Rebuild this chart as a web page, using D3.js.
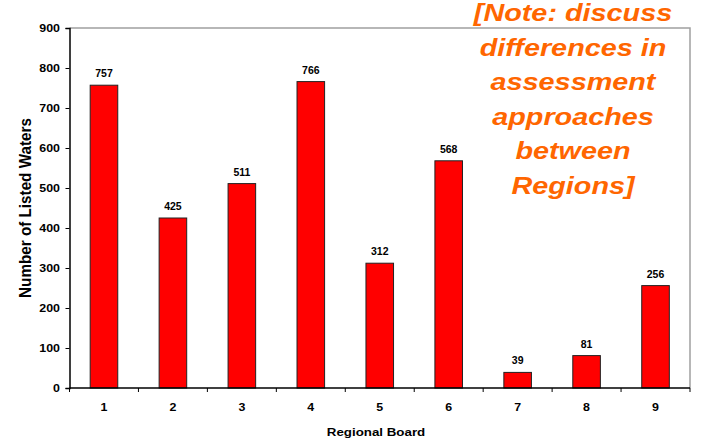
<!DOCTYPE html>
<html>
<head>
<meta charset="utf-8">
<script src="https://cdn.jsdelivr.net/npm/d3@7"></script>
<style>
  html, body { margin: 0; padding: 0; background: #fff; }
  svg { display: block; font-family: "Liberation Sans", Arial, sans-serif; }
</style>
</head>
<body>
<svg id="chart" width="707" height="438"></svg>
<script>
// Listed waters per regional board
const boards = ["1", "2", "3", "4", "5", "6", "7", "8", "9"];
const listedWaters = [757, 425, 511, 766, 312, 568, 39, 81, 256];
const yTicks = [0, 100, 200, 300, 400, 500, 600, 700, 800, 900];
const noteLines = ["[Note: discuss", "differences in", "assessment", "approaches", "between", "Regions]"];

const svg = d3.select("#chart");
const margin = { left: 69.5, right: 17, top: 28, bottom: 50 };
const W = 707, H = 438;
const x0 = margin.left, x1 = W - margin.right;
const y0 = H - margin.bottom, y1 = margin.top;

// text is drawn slightly wide (horizontal stretch of the slide artwork)
const STRETCH = 1.13;
function label(g, px, py, s, size, anchor, opts = {}) {
  return g.append("text")
    .attr("transform", `translate(${px},${py}) scale(${opts.sx || STRETCH},1)`)
    .attr("text-anchor", anchor)
    .attr("font-size", size)
    .attr("font-weight", "bold")
    .attr("font-style", opts.italic ? "italic" : "normal")
    .attr("fill", opts.fill || "#000")
    .text(s);
}

const x = d3.scaleBand().domain(boards).range([x0, x1]).paddingInner(0.6).paddingOuter(0.3);
const xBand = d3.scaleBand().domain(boards).range([x0, x1]);
const y = d3.scaleLinear().domain([0, 900]).range([y0, y1]);

// plot frame: gray top and right edges
svg.append("path")
  .attr("d", `M${x0},${y1}H${x1}V${y0}`)
  .attr("fill", "none")
  .attr("stroke", "#a0a0a0")
  .attr("stroke-width", 1.5);

// bars
svg.append("g").selectAll("rect")
  .data(boards)
  .join("rect")
  .attr("x", d => x(d))
  .attr("width", x.bandwidth())
  .attr("y", (d, i) => y(listedWaters[i]))
  .attr("height", (d, i) => y(0) - y(listedWaters[i]))
  .attr("fill", "#ff0000")
  .attr("stroke", "#222")
  .attr("stroke-width", 1);

// value labels
const valG = svg.append("g");
boards.forEach((d, i) => {
  label(valG, x(d) + x.bandwidth() / 2, y(listedWaters[i]) - 8, listedWaters[i], 10, "middle", { sx: 1.05 });
});

// y axis
const yAxis = svg.append("g")
  .attr("transform", `translate(${x0},0)`)
  .call(d3.axisLeft(y).tickValues(yTicks).tickSize(4).tickFormat(""));
yAxis.select(".domain").attr("stroke", "#000").attr("stroke-width", 1.5);
yAxis.selectAll(".tick line").attr("stroke", "#000").attr("stroke-width", 1);
const yLab = svg.append("g");
yTicks.forEach(t => label(yLab, 60, y(t) + 4, t, 11, "end"));

// x axis: ticks sit between categories
const xAxis = svg.append("g").attr("transform", `translate(0,${y0})`);
xAxis.append("line").attr("x1", x0).attr("x2", x1).attr("stroke", "#000").attr("stroke-width", 1.5);
const boundaries = boards.map(d => xBand(d)).concat([x1]);
xAxis.selectAll("line.tk")
  .data(boundaries)
  .join("line")
  .attr("class", "tk")
  .attr("x1", d => d).attr("x2", d => d)
  .attr("y1", 0).attr("y2", 4)
  .attr("stroke", "#000").attr("stroke-width", 1);
const xLab = svg.append("g");
boards.forEach(d => label(xLab, xBand(d) + xBand.bandwidth() / 2, y0 + 23, d, 11, "middle"));

// axis titles
label(svg, 376, 436, "Regional Board", 11.8, "middle");

svg.append("text")
  .attr("transform", `translate(31,${(y0 + y1) / 2}) rotate(-90) scale(0.93,1)`)
  .attr("text-anchor", "middle")
  .attr("font-size", 16.4)
  .attr("font-weight", "bold")
  .text("Number of Listed Waters");

// note overlay
const noteG = svg.append("g");
noteLines.forEach((s, i) => {
  label(noteG, 573, 21 + i * 34.5, s, 24, "middle", { sx: 1.2, italic: true, fill: "#ff6600" });
});
</script>
</body>
</html>
